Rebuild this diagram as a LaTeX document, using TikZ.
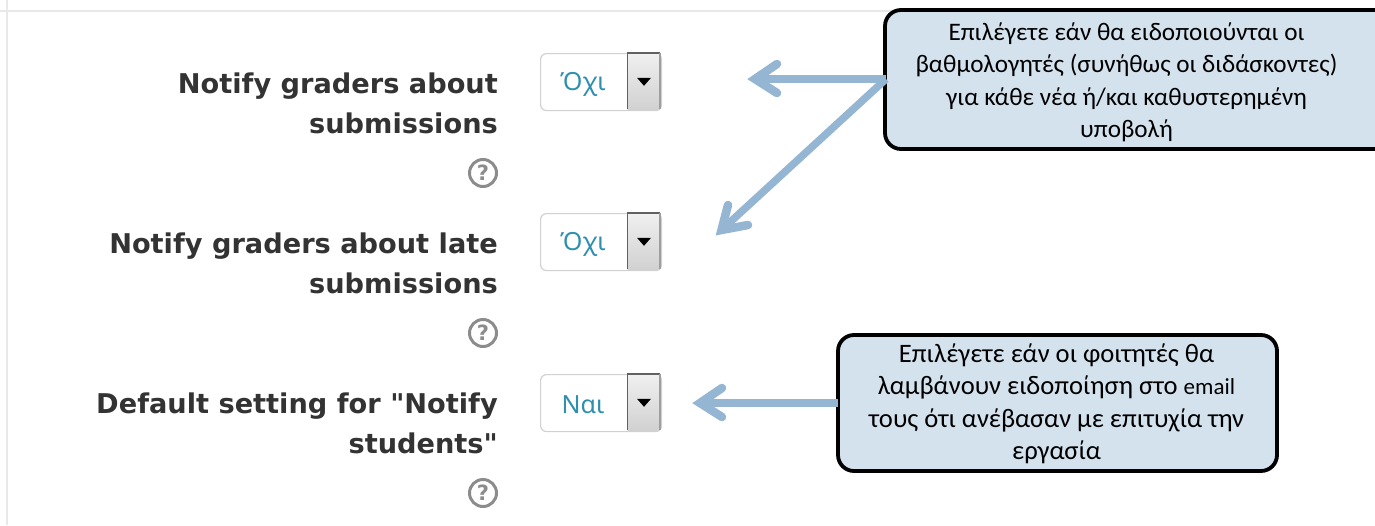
\documentclass[tikz,border=0pt]{standalone}
\usepackage{fontspec}
\setmainfont{Carlito}
\newfontfamily\labelfont{DejaVu Sans}
\newfontfamily\selfont{Noto Sans}
\usetikzlibrary{shapes.geometric}
\definecolor{boxfill}{HTML}{D4E2EE}
\definecolor{arrowblue}{HTML}{94B6D2}
\definecolor{labelgray}{HTML}{333333}
\definecolor{framegray}{HTML}{E8E8E8}
\definecolor{seltext}{HTML}{2F8FAF}
\definecolor{helpgray}{HTML}{8C8C8C}
\tikzset{
  callout/.style={draw=black,line width=3.8pt,rounded corners=16pt,fill=boxfill,inner sep=0pt,outer sep=0pt,text=black},
  calltext/.style={align=center,font=\fontsize{25.2}{32.5}\selectfont,text=black,inner sep=0pt},
  calltextb/.style={align=center,font=\fontsize{26.6}{32.5}\selectfont,text=black,inner sep=0pt},
  fieldlabel/.style={anchor=east,align=right,inner sep=0pt,text=labelgray,font=\labelfont\bfseries\fontsize{27.2}{40}\selectfont},
  selbox/.style={draw=black!18,line width=1.2pt,rounded corners=6pt,fill=white,minimum width=121pt,minimum height=57pt,inner sep=0pt,anchor=north west},
  selbtn/.style={top color=white!94!black,bottom color=black!18,minimum width=32pt,minimum height=56pt,inner sep=0pt,anchor=north west},
  btnedge/.style={draw=black!62,line width=1.8pt},
  btnedgeb/.style={draw=black!38,line width=2pt},
  seltri/.style={fill=black,isosceles triangle,isosceles triangle stretches,isosceles triangle apex angle=70,shape border rotate=-90,minimum width=14pt,minimum height=8pt,inner sep=0pt},
  seltxt/.style={text=seltext,inner sep=0pt,font=\selfont\fontsize{25}{28}\selectfont},
  helpicon/.style={circle,draw=helpgray,line width=3pt,fill=white,minimum size=27pt,inner sep=0pt,text=helpgray,font=\labelfont\bfseries\fontsize{21}{21}\selectfont},
  pointer/.style={draw=arrowblue,line width=7.5pt},
  pointerhead/.style={draw=arrowblue,line width=8.5pt,line cap=round,line join=miter,miter limit=20},
  frame/.style={draw=framegray,line width=2.5pt}
}
\begin{document}
\begin{tikzpicture}[x=1pt,y=-1pt]
\useasboundingbox (0,0) rectangle (1375,525);
\fill[white] (0,0) rectangle (1375,525);
% frame
\coordinate (fa) at (0,11);
\coordinate (fb) at (1375,11);
\coordinate (fc) at (7,0);
\coordinate (fd) at (7,525);
\draw[frame] (fa) -- (fb);
\draw[frame] (fc) -- (fd);
% labels
\node[fieldlabel] (l1) at (498,103) {Notify graders about\\submissions};
\node[fieldlabel] (l2) at (498,263) {Notify graders about late\\submissions};
\node[fieldlabel] (l3) at (498,423) {Default setting for "Notify\\students"};
% help
\node[helpicon] (h1) at (483,173) {?};
\node[helpicon] (h2) at (483,333) {?};
\node[helpicon] (h3) at (483,493) {?};
% selects
\foreach \n/\yy/\lab in {1/53/Όχι,2/213/Όχι,3/374/Ναι}{
  \node[selbox] (s\n) at (540,\yy) {};
  \node[selbtn] (b\n) at (627.5,\yy) {};
  \draw[btnedge] (b\n.south west) -- (b\n.north west) -- (b\n.north east);
  \draw[btnedgeb] (b\n.north east) -- (b\n.south east);
  \node[seltri] (t\n) at (644,\yy+28) {};
  \node[seltxt] (x\n) at (583,\yy+31) {\lab};
}
% callouts
\node[callout,minimum width=520pt,minimum height=139pt,anchor=north west] (c1) at (885,10) {};
\node[calltext] (c1t) at (1126.5,82.5) {Επιλέγετε εάν θα ειδοποιούνται οι\\βαθμολογητές (συνήθως οι διδάσκοντες)\\για κάθε νέα ή/και καθυστερημένη\\υποβολή};
\node[callout,minimum width=439pt,minimum height=136pt,anchor=north west] (c2) at (838,335) {};
\node[calltextb] (c2t) at (1056.5,404) {Επιλέγετε εάν οι φοιτητές θα\\λαμβάνουν ειδοποίηση στο {\fontsize{23}{32.5}\selectfont email}\\τους ότι ανέβασαν με επιτυχία την\\εργασία};
% arrows
\coordinate (a1s) at (886,79);
\coordinate (a1v) at (755,79);
\coordinate (a1p) at (777,64);
\coordinate (a1q) at (777,93);
\coordinate (a2v) at (721.5,230);
\coordinate (a2p) at (728,205);
\coordinate (a2q) at (748,225);
\coordinate (a3s) at (838,403);
\coordinate (a3v) at (700,403);
\coordinate (a3p) at (722,388);
\coordinate (a3q) at (722,417);
\draw[pointer] (a1s) -- (a1v);
\draw[pointer] (a1s) -- (a2v);
\draw[pointer] (a3s) -- (a3v);
\draw[pointerhead] (a1p) -- (a1v) -- (a1q);
\draw[pointerhead] (a2p) -- (a2v) -- (a2q);
\draw[pointerhead] (a3p) -- (a3v) -- (a3q);
\end{tikzpicture}
\end{document}
